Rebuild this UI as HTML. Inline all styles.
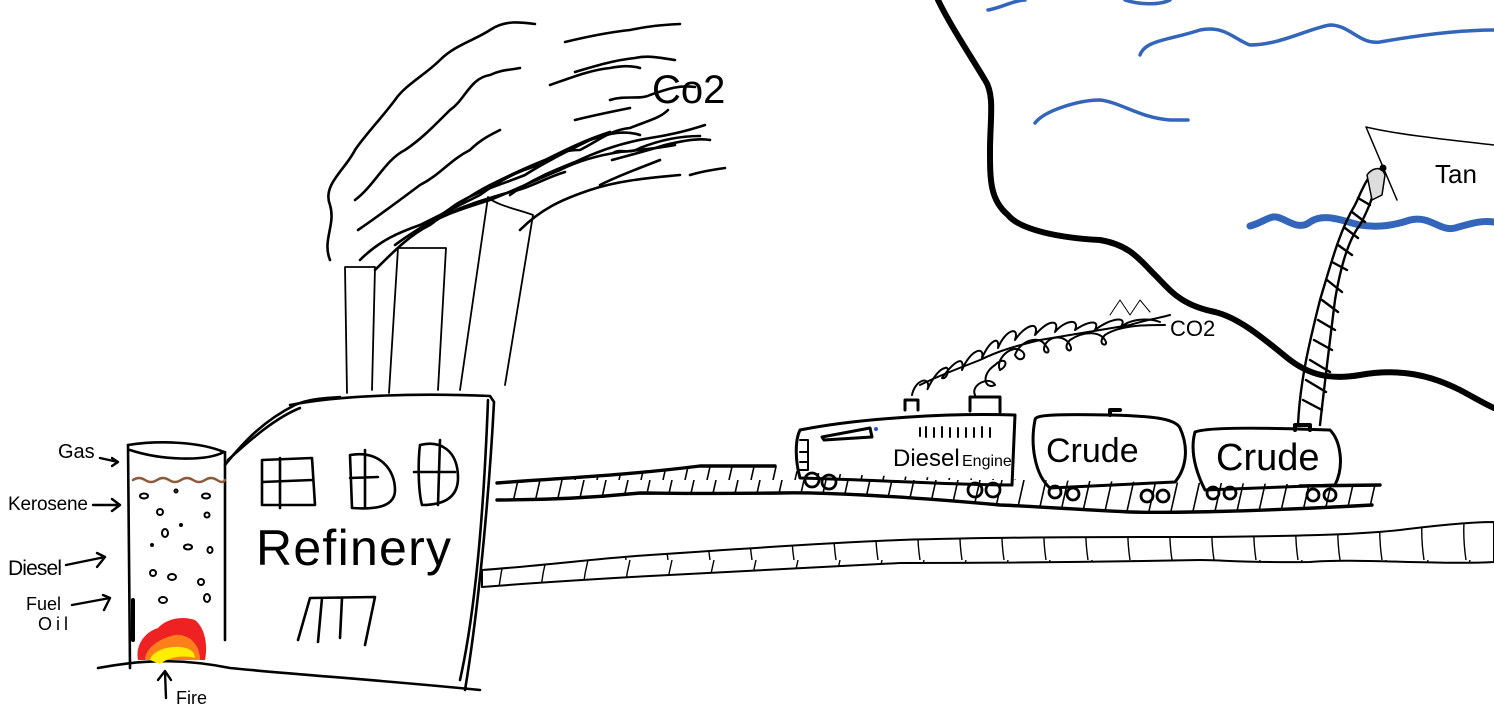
<!DOCTYPE html>
<html><head><meta charset="utf-8"><style>
html,body{margin:0;padding:0;background:#fff}
svg{display:block}
text{font-family:"Liberation Sans",sans-serif;fill:#000}
</style></head><body>
<svg width="1494" height="724" viewBox="0 0 1494 724" xmlns="http://www.w3.org/2000/svg">
<defs>
<pattern id="hatch" patternUnits="userSpaceOnUse" width="22" height="40">
<path d="M3,40 L12,0" stroke="#000" stroke-width="1.6" fill="none"/>
</pattern>
<pattern id="arcs" patternUnits="userSpaceOnUse" width="42" height="80" x="490">
<path d="M14,0 Q4,40 10,80" stroke="#000" stroke-width="1.4" fill="none"/>
</pattern>
</defs>
<g fill="none" stroke="#000" stroke-linecap="round" stroke-linejoin="round">

<!-- smoke -->
<g stroke-width="2.6">
<path d="M330,260 C322,240 336,225 330,205 C322,185 345,170 355,150 C365,135 380,120 395,100 C405,85 425,75 440,60 C455,45 475,40 490,30 C505,20 520,22 535,24"/>
<path d="M355,200 C375,185 385,160 405,150 C420,140 430,130 450,110 C465,100 470,78 490,75 C500,70 510,70 520,68"/>
<path d="M358,230 C380,215 400,200 420,185 C440,175 450,160 470,150 C480,140 490,135 500,130"/>
<path d="M360,260 C380,240 400,232 420,225 C440,215 460,205 480,195 C500,180 520,170 540,165 C560,150 570,150 580,150 C600,140 610,130 630,128 C650,120 660,118 668,110"/>
<path d="M375,270 C395,250 410,235 430,225 C450,210 470,195 490,185 C510,175 525,168 545,160 C565,150 585,140 610,132"/>
<path d="M395,245 C415,230 435,220 455,205 C475,192 500,185 525,175 C545,162 570,150 590,140 C610,133 625,130 640,135"/>
<path d="M420,230 C440,215 465,208 490,200 C520,188 535,180 560,170 C580,160 600,155 620,152 C640,150 660,148 675,145"/>
<path d="M445,215 C465,205 490,198 510,192 C530,188 545,178 565,172"/>
<path d="M510,195 C530,180 555,170 575,162 C600,150 625,142 650,138 C670,135 690,130 705,125"/>
<path d="M565,42 C590,36 610,32 630,30 C650,26 660,25 680,24"/>
<path d="M575,72 C595,66 615,60 635,58 C650,55 660,58 675,60"/>
<path d="M550,85 C570,78 590,70 610,68 C620,66 630,65 640,68"/>
<path d="M610,100 C625,95 640,100 650,95 C670,88 680,85 695,87"/>
<path d="M612,160 C630,155 650,150 665,145 C685,140 700,138 710,140"/>
<path d="M575,120 C595,115 610,112 630,108"/>
<path d="M600,185 C620,175 640,168 660,160"/>
<path d="M520,230 C540,210 560,200 590,190 C620,180 650,178 680,175"/>
<path d="M613,153 C620,148 628,155 640,148 C660,140 680,136 700,136"/>
<path d="M690,175 C700,172 710,170 725,168"/>
</g>
<text x="652" y="103" font-size="40" stroke="none">Co2</text>

<!-- stacks -->
<g stroke-width="1.8">
<path d="M347,393 L345,267 L375,267 L372,390"/>
<path d="M389,393 L398,248 L446,248 L438,390"/>
<path d="M460,390 L488,197 C495,205 520,210 533,215 L505,385"/>
</g>

<!-- refinery building -->
<g stroke-width="2.6">
<path d="M290,405 C340,395 420,393 490,396 L494,402 C490,480 480,600 465,690"/>
<path d="M488,400 C485,480 478,600 460,680"/>
<path d="M225,465 C245,440 265,420 295,405 C310,398 330,398 340,397"/>
<path d="M228,460 C250,440 275,418 300,408"/>
<path d="M98,668 C150,658 190,660 230,668 C300,675 380,680 480,690"/>
<path d="M128,445 L130,668"/>
<path d="M128,445 C160,440 200,442 224,452 C205,462 160,460 130,450"/>
<path d="M225,452 L225,640"/>
<path d="M133,600 L133,640" stroke-width="4"/>
<path d="M262,460 L312,458 L315,505 L262,505 Z M262,482 L312,480 M280,458 L280,508"/>
<path d="M350,455 C380,450 395,470 395,490 C395,505 380,510 352,508 Z M350,478 L378,477 M365,450 L365,508"/>
<path d="M420,445 C440,440 458,450 458,478 C458,500 440,505 422,505 C418,490 418,460 420,445 Z M414,472 L455,472 M440,440 L438,505"/>
<path d="M298,640 L310,598 L375,597 L365,645 M322,598 L318,642 M342,598 L340,638"/>
</g>
<text x="256" y="565" font-size="50" stroke="none" textLength="195">Refinery</text>
<path d="M133,480 q6,-4 12,0 t12,0 t12,0 t12,0 t12,0 t12,0 t12,0 t8,0" stroke="#8b5a3c" stroke-width="2.5"/>
<g stroke-width="2">
<ellipse cx="144" cy="496" rx="4" ry="2.5"/><ellipse cx="206" cy="496" rx="4" ry="2.5"/><ellipse cx="160" cy="512" rx="3" ry="3"/>
<ellipse cx="207" cy="515" rx="2.5" ry="2.5"/><ellipse cx="165" cy="533" rx="3" ry="4"/><ellipse cx="188" cy="547" rx="4" ry="2.5"/>
<ellipse cx="210" cy="550" rx="2.5" ry="3"/><ellipse cx="153" cy="573" rx="3" ry="3"/><ellipse cx="172" cy="577" rx="4" ry="3"/>
<ellipse cx="201" cy="582" rx="3" ry="3"/><ellipse cx="163" cy="600" rx="4" ry="3"/><ellipse cx="207" cy="598" rx="3" ry="4"/>
<circle cx="176" cy="491" r="1.5"/><circle cx="181" cy="525" r="1"/><circle cx="152" cy="545" r="1"/>
</g>
<path d="M138,660 C135,645 145,632 158,628 C165,620 180,615 195,620 C205,628 208,645 205,660 Z" fill="#ee2222" stroke="none"/>
<path d="M145,660 C145,648 160,638 175,635 C190,634 200,645 200,660 Z" fill="#ff7f1a" stroke="none"/>
<path d="M150,660 C152,652 165,646 180,647 C190,648 195,652 195,658 C185,655 170,656 160,664 Z" fill="#ffee00" stroke="none"/>
<g stroke-width="2.4">
<path d="M100,458 L118,462 M112,458 L118,462 L112,466"/>
<path d="M93,505 L120,505 M112,499 L120,505 L112,511"/>
<path d="M66,565 L105,557 M97,553 L105,557 L97,567"/>
<path d="M72,605 L110,598 M103,595 L110,598 L104,610"/>
<path d="M166,698 L165,672 M158,680 L165,671 L171,680"/>
</g>
<text x="58" y="458" font-size="20" stroke="none">Gas</text>
<text x="8" y="510" font-size="19" stroke="none" textLength="80">Kerosene</text>
<text x="8" y="575" font-size="21" stroke="none" textLength="54">Diesel</text>
<text x="26" y="610" font-size="18" stroke="none">Fuel</text>
<text x="38" y="630" font-size="18" stroke="none" style="letter-spacing:4px">Oil</text>
<text x="176" y="704" font-size="18" stroke="none">Fire</text>

<!-- upper track -->
<path d="M497,483 C560,478 620,476 700,466 L775,466 L800,472 C900,478 1100,482 1380,485 L1372,505 C1250,512 1160,513 1130,512 C1050,508 1010,505 1000,505 C900,496 820,492 780,493 C700,494 660,493 640,493 C590,498 540,500 497,500 Z" fill="url(#hatch)" stroke="none"/>
<path d="M497,483 C560,478 620,476 700,466 L775,466" stroke-width="3.4"/>
<path d="M1300,486 L1380,485" stroke-width="3.4"/>
<path d="M497,500 C540,500 590,498 640,493 C660,493 700,494 780,493 C820,492 900,496 1000,505 C1010,505 1050,508 1130,512 C1160,513 1250,512 1372,505" stroke-width="3.4"/>

<!-- lower pipe -->
<path d="M482,570 C550,565 600,558 650,555 C750,548 850,542 900,540 C1000,537 1100,537 1200,537 C1300,536 1350,535 1400,530 C1440,525 1470,522 1494,522 L1494,562 C1440,565 1350,558 1310,562 C1250,563 1220,560 1200,560 C1100,562 1000,563 900,563 C800,568 700,573 650,576 C580,580 520,584 482,587 Z" fill="url(#arcs)" stroke-width="2"/>

<!-- engine -->
<g stroke-width="3">
<path d="M800,430 C860,418 950,413 1015,415 L1012,485 C950,485 880,480 800,478 C795,460 795,440 800,430 Z"/>
<path d="M905,410 L905,400 L918,400 L918,410 M970,411 L970,397 L1000,397 L1000,412"/>
<path d="M822,437 L870,428 L872,437 L824,440 Z"/>
<path d="M800,440 L808,440 L808,470 L798,470 M800,452 L808,452 M800,462 L808,462" stroke-width="2"/>
<path d="M920,428 L920,436 M926,427 L926,437 M934,428 L934,437 M942,427 L942,437 M950,428 L950,437 M958,428 L958,437 M966,428 L966,437 M974,428 L974,437 M982,427 L982,437 M990,428 L990,437" stroke-width="2"/>
<path d="M1035,420 C1035,415 1050,414 1110,415 C1150,416 1175,418 1180,428 C1190,450 1185,470 1175,482 L1050,488 C1035,475 1030,445 1035,420 Z"/>
<path d="M1195,432 C1205,428 1250,427 1330,430 C1340,440 1345,465 1335,485 L1205,490 C1195,470 1190,450 1195,432 Z"/>
<path d="M1110,415 L1110,410 L1120,410" stroke-width="4"/>
<path d="M1295,430 L1295,425 L1310,425 L1310,430" stroke-width="4"/>
</g>
<circle cx="876" cy="429" r="2" fill="#2255cc" stroke="none"/>
<text x="893" y="466" font-size="24" stroke="none">Diesel</text>
<text x="962" y="466" font-size="16" stroke="none">Engine</text>
<text x="1046" y="462" font-size="34" stroke="none">Crude</text>
<text x="1216" y="470" font-size="38" stroke="none">Crude</text>
<g stroke-width="2.8">
<circle cx="812" cy="480" r="7"/><circle cx="829" cy="482" r="7"/>
<circle cx="975" cy="490" r="7"/><circle cx="993" cy="490" r="7"/>
<circle cx="1055" cy="492" r="6"/><circle cx="1073" cy="494" r="6"/>
<circle cx="1147" cy="496" r="6"/><circle cx="1163" cy="496" r="6"/>
<circle cx="1213" cy="493" r="6"/><circle cx="1230" cy="493" r="6"/>
<circle cx="1313" cy="495" r="6"/><circle cx="1330" cy="495" r="6"/>
</g>

<!-- train smoke -->
<g stroke-width="2">
<path d="M912,395 C915,380 930,375 928,388 C925,395 935,370 945,368 C950,365 948,380 942,378 C955,360 965,355 962,370 C970,350 985,345 982,358 C990,340 1000,335 998,348 C1005,330 1020,325 1015,340 C1025,325 1040,320 1035,335 C1050,318 1060,320 1055,332 C1065,320 1080,318 1075,330 C1090,320 1100,320 1095,330 C1110,318 1130,315 1120,328 C1130,318 1150,318 1160,322"/>
<path d="M975,395 C970,385 990,375 995,385 C985,390 980,375 995,365 C1005,355 1010,365 1000,370 C995,360 1010,345 1020,350 C1030,355 1020,365 1015,355 C1020,340 1040,335 1045,345 C1055,355 1040,355 1045,345 C1050,335 1065,335 1070,345 C1075,355 1060,350 1070,340 C1085,330 1100,332 1105,340 C1110,348 1095,345 1105,335 C1120,325 1145,325 1165,325"/>
<path d="M920,385 C940,375 960,368 980,360 C1000,350 1020,345 1040,340 C1070,335 1100,330 1130,325 C1145,320 1160,318 1170,315"/>
<path d="M1110,315 L1120,300 L1130,315 L1140,300 L1150,312" stroke-width="1"/>
</g>
<text x="1170" y="336" font-size="22" stroke="none">CO2</text>

<!-- river bank -->
<path d="M938,0 C950,25 970,55 985,80 C995,95 990,120 990,150 C990,180 990,200 1008,215 C1020,230 1060,238 1100,240 C1130,245 1140,260 1155,275 C1170,290 1180,305 1215,312 C1240,318 1265,340 1290,360 C1310,375 1330,380 1360,375 C1400,368 1430,375 1460,390 C1475,398 1485,404 1494,408" stroke-width="6"/>

<g stroke="#3366bb" stroke-width="3.5">
<path d="M988,10 C1000,8 1015,0 1025,0"/>
<path d="M1125,0 C1140,5 1160,5 1170,0"/>
<path d="M1140,55 C1145,40 1170,40 1200,30 C1225,25 1235,40 1250,45 C1280,45 1310,28 1330,25 C1350,25 1360,45 1380,42 C1420,35 1460,30 1494,30"/>
<path d="M1035,123 C1045,110 1080,100 1100,100 C1120,102 1140,118 1170,120 L1188,120"/>
<path d="M1250,226 C1265,222 1270,214 1280,218 C1290,222 1300,230 1310,222 C1325,212 1345,222 1360,225 C1380,228 1395,225 1410,220 C1430,215 1440,232 1455,228 C1470,224 1480,220 1494,222" stroke-width="7"/>
</g>

<path d="M1366,127 C1400,135 1450,140 1494,145 M1366,127 L1397,200" stroke-width="1.5"/>
<text x="1435" y="183" font-size="26" stroke="none">Tan</text>

<g stroke-width="2.4">
<path d="M1298,425 C1300,380 1310,340 1320,300 C1332,260 1340,230 1355,205 C1360,195 1365,180 1375,170"/>
<path d="M1320,425 C1325,380 1330,340 1335,300 C1340,270 1348,240 1360,225 C1368,210 1372,200 1380,172"/>
<path d="M1303,400 L1322,410 M1306,380 L1326,392 M1310,360 L1330,372 M1314,340 L1332,350 M1318,320 L1335,330 M1322,300 L1338,312 M1327,280 L1342,292 M1332,262 L1347,270 M1338,245 L1352,255 M1345,228 L1358,238 M1352,212 L1365,222 M1358,198 L1370,205"/>
</g>
<path d="M1367,175 C1372,168 1382,165 1385,175 L1382,195 L1372,200 Z" fill="#ddd" stroke="#000" stroke-width="1.5"/>
<circle cx="1383" cy="168" r="3.5" fill="#000" stroke="none"/>
</g>
</svg>
</body></html>
